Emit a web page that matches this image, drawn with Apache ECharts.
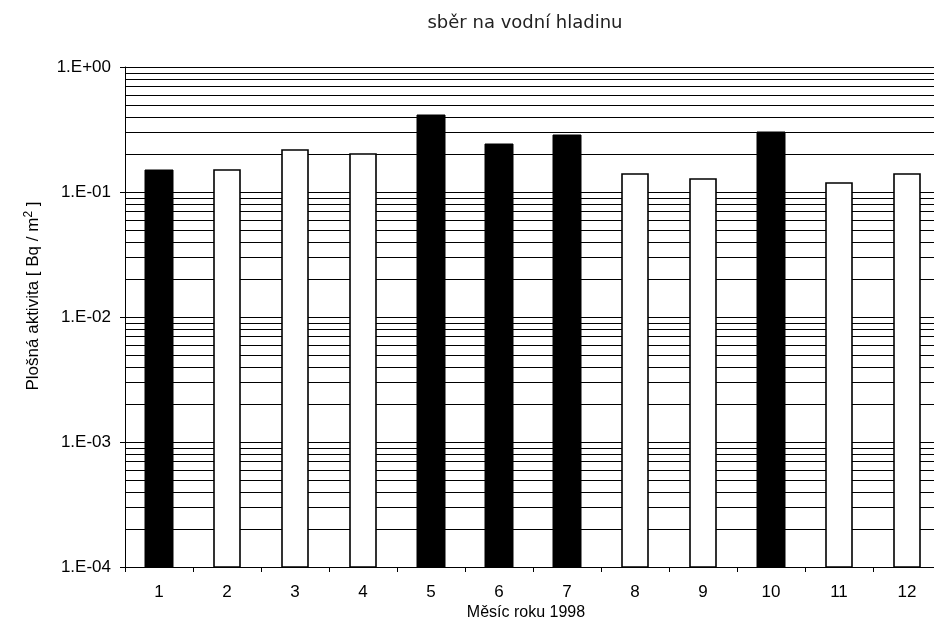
<!DOCTYPE html>
<html>
<head>
<meta charset="utf-8">
<script src="https://cdn.jsdelivr.net/npm/echarts@6/dist/echarts.min.js"></script>
<style>
  html, body { margin: 0; padding: 0; background: #fff; }
  #chart { width: 934px; height: 634px; }
</style>
</head>
<body>
<div id="chart"></div>
<script>
// Months of 1998
const months = ['1', '2', '3', '4', '5', '6', '7', '8', '9', '10', '11', '12'];
// Surface activity [Bq/m2], filled bars
const filledValues = [0.15, null, null, null, 0.41, 0.24, 0.285, null, null, 0.30, null, null];
// Surface activity [Bq/m2], open bars
const openValues = [null, 0.15, 0.216, 0.20, null, null, null, 0.14, 0.127, null, 0.119, 0.14];
// Y axis decades and their labels
const decadeValues = [1e-4, 1e-3, 1e-2, 1e-1, 1];
const decadeLabels = ['1.E-04', '1.E-03', '1.E-02', '1.E-01', '1.E+00'];
// Intermediate gridline multipliers inside each decade
const minorSteps = [2, 3, 4, 5, 6, 7, 8, 9];

const FONT = '"Liberation Sans", Arial, sans-serif';
const AXIS_MIN = decadeValues[0];

const minorLines = [];
decadeValues.slice(0, -1).forEach(function (d) {
  minorSteps.forEach(function (m) { minorLines.push([0, d * m]); });
});

function toPairs(values) {
  const out = [];
  values.forEach(function (v, i) { if (v != null) out.push([i, v]); });
  return out;
}

function decadeLabel(v) {
  for (let i = 0; i < decadeValues.length; i++) {
    if (Math.abs(Math.log10(v) - Math.log10(decadeValues[i])) < 1e-6) return decadeLabels[i];
  }
  return '';
}

// Bars rising from the bottom of the log axis
function barRenderer(fill, lineWidth, width) {
  return function (params, api) {
    const top = api.coord([api.value(0), api.value(1)]);
    const bottom = api.coord([api.value(0), AXIS_MIN]);
    const x = Math.round(top[0] - width / 2);
    return {
      type: 'rect',
      shape: { x: x, y: Math.round(top[1]), width: width, height: Math.round(bottom[1]) - Math.round(top[1]) },
      style: { fill: fill, stroke: '#000', lineWidth: lineWidth }
    };
  };
}

// Horizontal gridlines at 2..9 within each decade
function gridRenderer(params, api) {
  const cs = params.coordSys;
  const y = Math.round(api.coord([0, api.value(1)])[1]) + 0.5;
  return {
    type: 'line',
    shape: { x1: cs.x, y1: y, x2: cs.x + cs.width, y2: y },
    style: { stroke: '#000', lineWidth: 1 }
  };
}

const chart = echarts.init(document.getElementById('chart'), null, { renderer: 'canvas' });
chart.setOption({
  backgroundColor: '#fff',
  animation: false,
  grid: { left: 125, width: 816, top: 67, bottom: 67, containLabel: false, outerBoundsMode: 'none' },
  xAxis: {
    type: 'category',
    data: months,
    axisLine: { lineStyle: { color: '#000', width: 1 } },
    axisTick: { show: true, length: 5, lineStyle: { color: '#000' } },
    axisLabel: { color: '#000', fontFamily: FONT, fontSize: 17, margin: 17 },
    splitLine: { show: false }
  },
  yAxis: {
    type: 'log',
    logBase: 10,
    min: 1e-4,
    max: 1,
    axisLine: { show: true, lineStyle: { color: '#000', width: 1 } },
    axisTick: { show: true, length: 5, lineStyle: { color: '#000' } },
    axisLabel: { color: '#000', fontFamily: FONT, fontSize: 17, margin: 14, formatter: decadeLabel },
    splitLine: { show: true, lineStyle: { color: '#000', width: 1 } }
  },
  graphic: [
    { type: 'text', x: 525, y: 23, style: { text: 'sběr na vodní hladinu', font: '18px "DejaVu Sans", sans-serif', fill: '#222', align: 'center', verticalAlign: 'middle' } },
    { type: 'text', x: 526, y: 613, style: { text: 'Měsíc roku 1998', font: '16px ' + FONT, fill: '#000', align: 'center', verticalAlign: 'middle' } },
    {
      type: 'text', x: 33, y: 296, rotation: Math.PI / 2,
      style: {
        text: 'Plošná aktivita [ Bq / m{sup|2} ]',
        font: '17px ' + FONT, fill: '#000', align: 'center', verticalAlign: 'middle',
        rich: { sup: { fontSize: 12, fontFamily: FONT, padding: [0, 0, 8, 0] } }
      }
    }
  ],
  series: [
    {
      name: 'grid', type: 'custom', data: minorLines, renderItem: gridRenderer,
      encode: { x: 0, y: 1 }, silent: true, z: 1
    },
    {
      name: 'filled', type: 'custom', data: toPairs(filledValues),
      renderItem: barRenderer('#000', 1, 28), encode: { x: 0, y: 1 }, z: 3
    },
    {
      name: 'open', type: 'custom', data: toPairs(openValues),
      renderItem: barRenderer('#fff', 1.6, 26), encode: { x: 0, y: 1 }, z: 3
    }
  ]
});
</script>
</body>
</html>
